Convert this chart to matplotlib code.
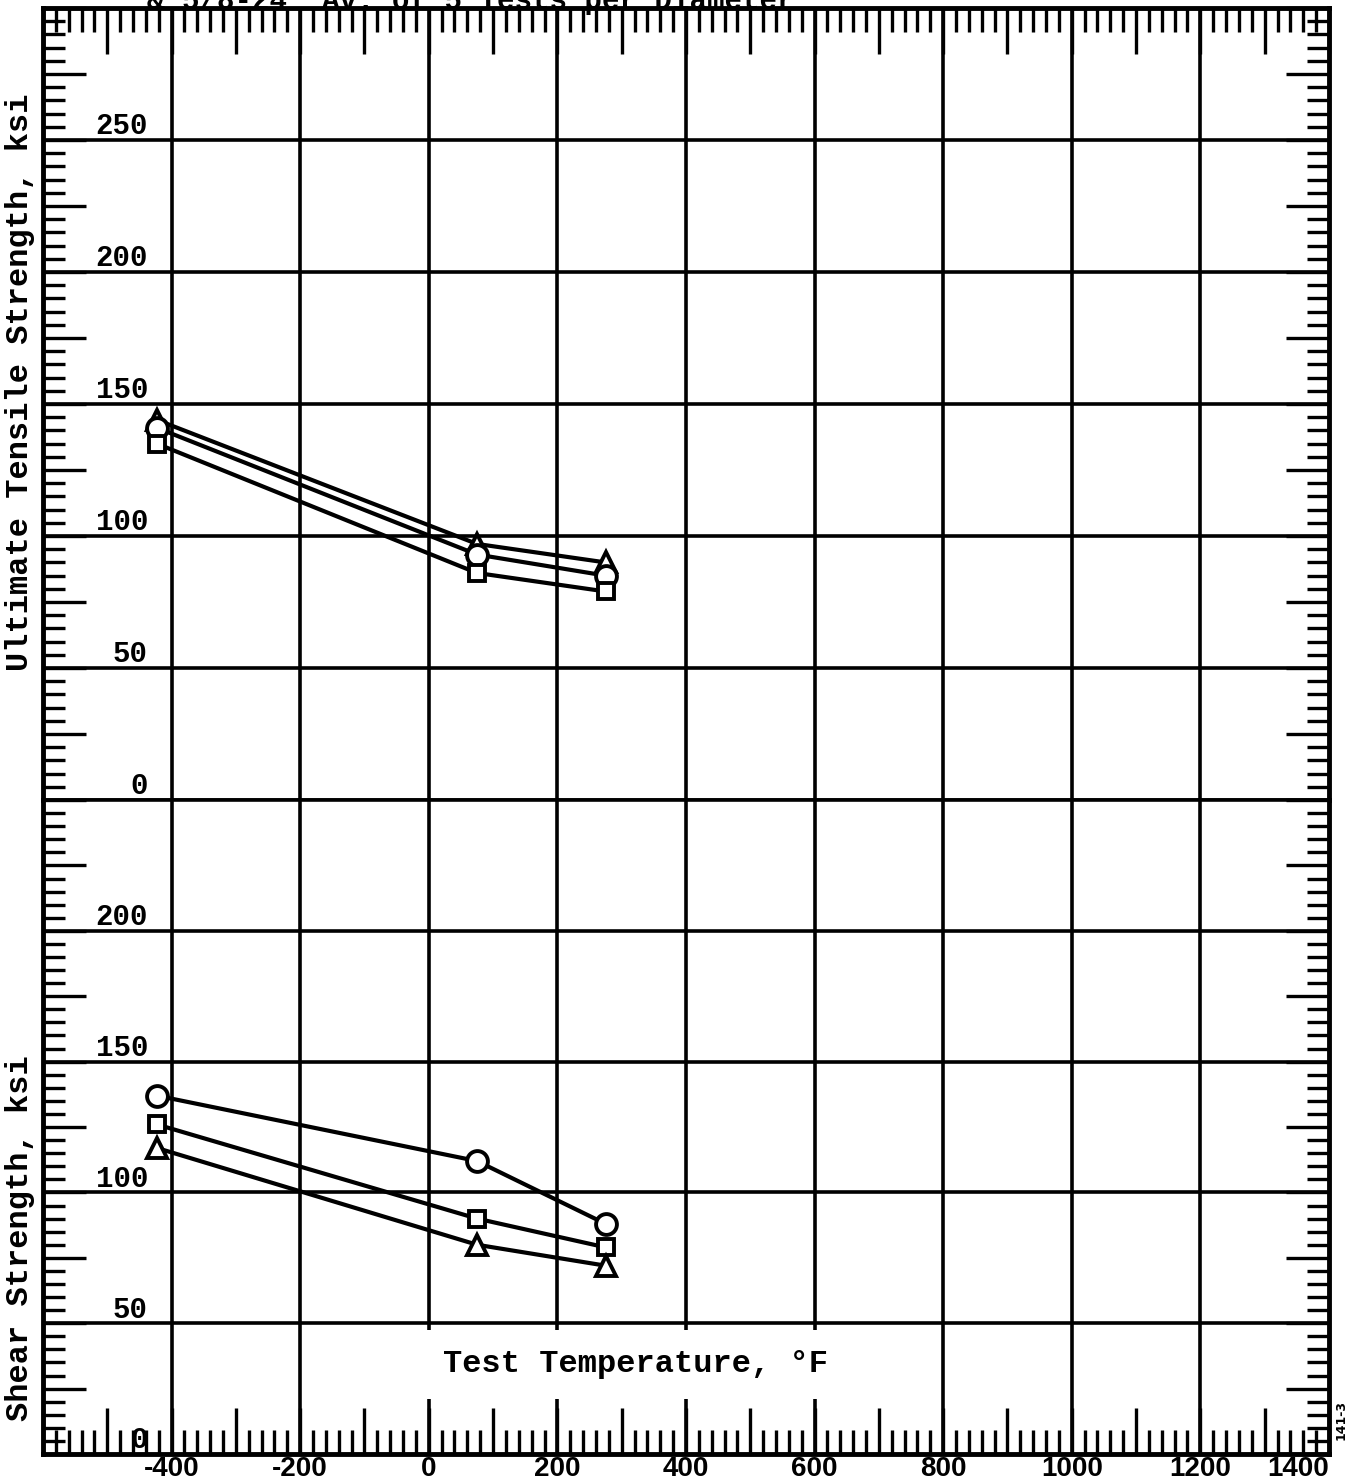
import matplotlib
matplotlib.use("Agg")
import matplotlib.pyplot as plt
import matplotlib.transforms as mtransforms
from matplotlib import font_manager
from matplotlib.ticker import MultipleLocator, FuncFormatter

# test temperatures, deg F
temps = [-423, 75, 275]

# ultimate tensile strength, ksi
uts_circle = [141, 93, 85]
uts_square = [135, 86, 79]
uts_triangle = [144, 97, 90]

# shear strength, ksi
shear_circle = [137, 112, 88]
shear_square = [126, 90, 79]
shear_triangle = [117, 80, 72]

uts_labels = [250, 200, 150, 100, 50, 0]
shear_labels = [200, 150, 100, 50, 0]

plt.rcParams['font.weight'] = 'bold'
installed = {f.name for f in font_manager.fontManager.ttflist}
mono = 'Liberation Mono' if 'Liberation Mono' in installed else 'DejaVu Sans Mono'
sans = 'Liberation Sans' if 'Liberation Sans' in installed else 'DejaVu Sans'

fig = plt.figure(figsize=(13.47, 14.84), dpi=100)
ax_t = fig.add_axes([0.0319, 0.4609, 0.9547, 0.5337])
ax_b = fig.add_axes([0.0319, 0.0202, 0.9547, 0.4407], sharex=ax_t)


def style(ax, ymax, top):
    ax.set_xlim(-600, 1400)
    ax.set_ylim(0, ymax)
    ax.xaxis.set_major_locator(MultipleLocator(100))
    ax.xaxis.set_minor_locator(MultipleLocator(20))
    ax.yaxis.set_major_locator(MultipleLocator(25))
    ax.yaxis.set_minor_locator(MultipleLocator(5))
    ax.tick_params(axis='both', which='both', direction='in', width=2.4, color='black')
    ax.tick_params(axis='x', which='major', length=33)
    ax.tick_params(axis='x', which='minor', length=17)
    ax.tick_params(axis='y', which='major', length=31)
    ax.tick_params(axis='y', which='minor', length=16)
    ax.tick_params(axis='y', which='both', left=True, right=True, labelleft=False)
    if top:
        ax.tick_params(axis='x', which='both', top=True, bottom=False,
                       labelbottom=False, labeltop=False)
    else:
        ax.tick_params(axis='x', which='both', top=False, bottom=True,
                       labelbottom=True, pad=1.5, labelsize=20,
                       labelfontfamily=sans)
    for s in ax.spines.values():
        s.set_linewidth(3.5)
    for gx in range(-400, 1400, 200):
        ax.axvline(gx, color='black', lw=2.6, zorder=1)
    for gy in range(50, ymax, 50):
        ax.axhline(gy, color='black', lw=2.6, zorder=1)


style(ax_t, 300, True)
style(ax_b, 250, False)
ax_t.spines['bottom'].set_linewidth(2.6)
ax_b.spines['top'].set_linewidth(2.6)

ax_b.xaxis.set_major_formatter(FuncFormatter(
    lambda v, p: f"{int(v)}" if v % 200 == 0 and v > -600 else ""))


def series(ax, y, marker, ms):
    ax.plot(temps, y, color='black', lw=3.0, marker=marker, ms=ms,
            mfc='white', mec='black', mew=2.8, zorder=4)


series(ax_t, uts_triangle, '^', 15)
series(ax_t, uts_circle, 'o', 15)
series(ax_t, uts_square, 's', 12)

series(ax_b, shear_circle, 'o', 15)
series(ax_b, shear_square, 's', 12)
series(ax_b, shear_triangle, '^', 15)

# value labels sit inside the frame, just above each grid line
for ax, labels in ((ax_t, uts_labels), (ax_b, shear_labels)):
    trans = mtransforms.blended_transform_factory(ax.transAxes, ax.transData)
    trans = mtransforms.offset_copy(trans, fig=fig, y=4, units='points')
    for v in labels:
        ax.text(0.0817, v, str(v), transform=trans, ha='right', va='baseline',
                fontsize=21, family=mono, zorder=5)

ax_b.text(322, 34.4, 'Test Temperature, °F', ha='center', va='center',
          fontsize=23, family=mono, zorder=6,
          bbox=dict(facecolor='white', edgecolor='none', pad=14))

fig.text(0.0148, 0.7426, 'Ultimate Tensile Strength, ksi', rotation=90,
         ha='center', va='center', fontsize=23, family=mono)
fig.text(0.0148, 0.1658, 'Shear Strength, ksi', rotation=90,
         ha='center', va='center', fontsize=23, family=mono)

fig.text(0.1091, 0.9939, '& 5/8-24  Av. of 5 Tests per Diameter',
         ha='left', va='baseline', fontsize=21, family=mono)
fig.text(0.9955, 0.043, '141-3', rotation=90, ha='center', va='center',
         fontsize=9, family='DejaVu Sans')

# keep the last temperature label inside the right edge
fig.canvas.draw()
for tick in ax_b.xaxis.get_major_ticks():
    if abs(tick.get_loc() - 1400) < 1:
        tick.label1.set_horizontalalignment('right')

fig.savefig('out.png', dpi=100)
